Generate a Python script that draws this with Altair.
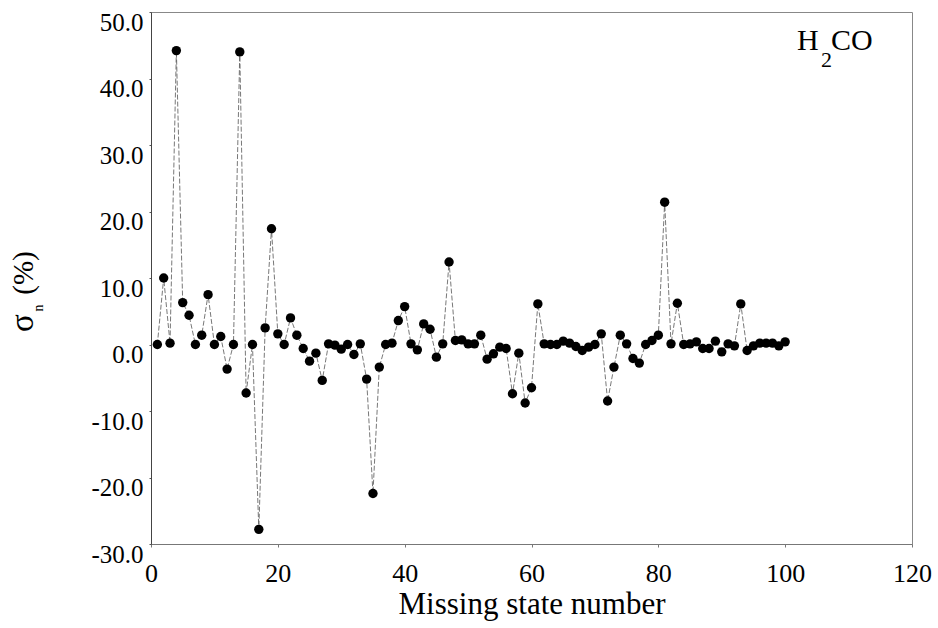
import altair as alt
import pandas as pd

state_number = list(range(1, 101))
sigma_n = [
    0.0, 10.0, 0.2, 44.2, 6.3, 4.4, 0.0, 1.4, 7.5, 0.0,
    1.2, -3.7, 0.0, 44.0, -7.3, 0.0, -27.8, 2.5, 17.4, 1.6,
    0.0, 4.0, 1.4, -0.6, -2.5, -1.3, -5.4, 0.1, -0.1, -0.7,
    0.0, -1.5, 0.1, -5.2, -22.4, -3.4, 0.0, 0.2, 3.6, 5.7,
    0.1, -0.8, 3.1, 2.3, -1.9, 0.1, 12.4, 0.6, 0.7, 0.1,
    0.1, 1.4, -2.2, -1.4, -0.4, -0.6, -7.4, -1.3, -8.8, -6.5,
    6.1, 0.1, 0.0, 0.0, 0.5, 0.2, -0.3, -0.9, -0.4, 0.0,
    1.6, -8.5, -3.4, 1.4, 0.1, -2.1, -2.8, 0.0, 0.6, 1.4,
    21.4, 0.1, 6.2, 0.0, 0.1, 0.4, -0.6, -0.6, 0.5, -1.1,
    0.1, -0.2, 6.1, -0.9, -0.2, 0.2, 0.2, 0.2, -0.2, 0.4,
]
x_ticks = [0, 20, 40, 60, 80, 100, 120]
y_ticks = [-30, -20, -10, 0, 10, 20, 30, 40, 50]

df = pd.DataFrame({"n": state_number, "s": sigma_n})
FONT = "Liberation Serif"

xenc = alt.X(
    "n:Q",
    scale=alt.Scale(domain=[0, 120], nice=False, zero=False),
    axis=alt.Axis(
        values=x_ticks, grid=False, title="Missing state number",
        labelFont=FONT, labelFontSize=26, labelColor="black",
        labelPadding=13, tickSize=3, tickColor="#777",
        domainColor="#777", labelFlush=False, labelOverlap=False,
        titleFont=FONT, titleFontSize=31, titleFontWeight="normal",
        titleColor="black", titlePadding=3,
    ),
)
yenc = alt.Y(
    "s:Q",
    scale=alt.Scale(domain=[-30, 50], nice=False, zero=False),
    axis=alt.Axis(
        values=y_ticks, grid=False, title=None,
        labelExpr="datum.value < 0 ? '-' + format(-datum.value, '.1f') : format(datum.value, '.1f')",
        labelFont=FONT, labelFontSize=25, labelColor="black",
        labelPadding=6, labelOffset=10, tickSize=2, tickColor="#555",
        domainColor="#444", labelFlush=False, labelOverlap=False,
    ),
)

base = alt.Chart(df)
line = base.mark_line(color="#555", strokeWidth=0.8, strokeDash=[5, 2]).encode(x=xenc, y=yenc)
pts = base.mark_circle(color="black", size=88, opacity=1).encode(x=xenc, y=yenc)

def label(txt, x, y, size, angle=0, align="left", baseline="alphabetic"):
    kw = dict(font=FONT, fontSize=size, color="black", align=align, baseline=baseline)
    if angle:
        kw["angle"] = angle
    return alt.Chart(pd.DataFrame({"t": [txt]})).mark_text(**kw).encode(
        text="t:N", x=alt.value(x), y=alt.value(y)
    )

sig = label("σ", -118, 311, 33, angle=270, align="center")
sub_n = label("n", -108, 296, 14, angle=270, align="center")
pct = label("(%)", -118, 261, 29, angle=270, align="center")
h = label("H", 646, 38, 30)
two = label("2", 670, 55, 22)
co = label("CO", 680, 38, 30)

chart = alt.layer(line, pts, sig, sub_n, pct, h, two, co).properties(
    width=761, height=532,
    autosize=alt.AutoSizeParams(type="none"),
    padding={"left": 151, "top": 12, "right": 26, "bottom": 84},
    background="white",
).configure_view(stroke="#888", strokeWidth=1)

chart.save("out.html", embed_options={"renderer": "svg", "actions": False})
